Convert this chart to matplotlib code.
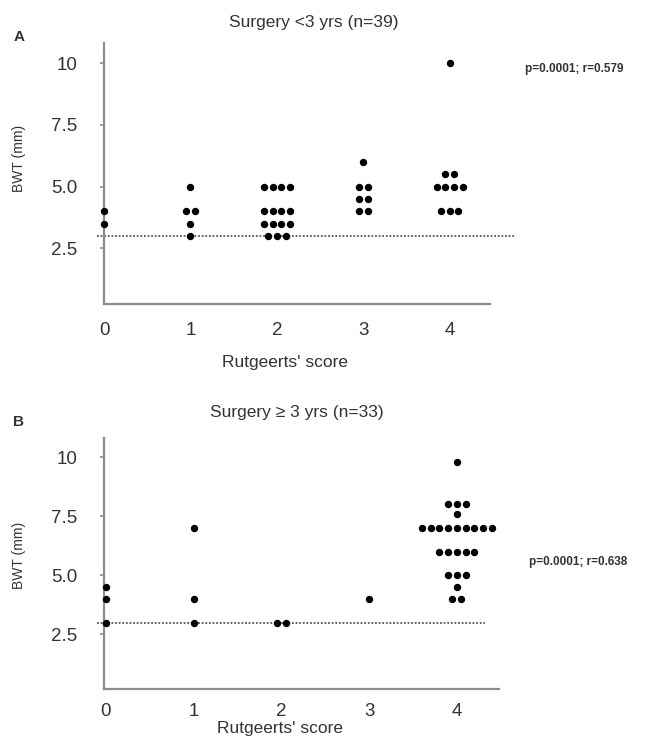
import matplotlib
matplotlib.use('Agg')
import matplotlib.pyplot as plt
from matplotlib.ticker import FixedLocator, FuncFormatter
import numpy as np

plt.rcParams['font.family'] = ['Liberation Sans', 'DejaVu Sans']

# BWT (mm) values per Rutgeerts' score (0..4)
scores = [0, 1, 2, 3, 4]
a_vals = [
    [4.0, 3.5],
    [5.0, 4.0, 4.0, 3.5, 3.0],
    [5.0, 5.0, 5.0, 5.0, 4.0, 4.0, 4.0, 4.0, 3.5, 3.5, 3.5, 3.5, 3.0, 3.0, 3.0],
    [6.0, 5.0, 5.0, 4.5, 4.5, 4.0, 4.0],
    [10.0, 5.5, 5.5, 5.0, 5.0, 5.0, 5.0, 4.0, 4.0, 4.0],
]
b_vals = [
    [4.5, 4.0, 3.0],
    [7.0, 4.0, 3.0],
    [3.0, 3.0],
    [4.0],
    [9.8, 8.0, 8.0, 8.0, 7.6, 7.0, 7.0, 7.0, 7.0, 7.0, 7.0, 7.0, 7.0, 7.0,
     6.0, 6.0, 6.0, 6.0, 6.0, 5.0, 5.0, 5.0, 4.5, 4.0, 4.0],
]
y_ticks = [2.5, 5.0, 7.5, 10.0]
cutoff = 3.0

titles = ['Surgery <3 yrs (n=39)', 'Surgery \u2265 3 yrs (n=33)']
stats = ['p=0.0001; r=0.579', 'p=0.0001; r=0.638']
letters = ['A', 'B']

TXT = '#333333'
AX = '#8c8c8c'
W, H = 657, 737


def swarm(score, vals, step=0.1):
    # spread equal values side by side around the score
    xs, ys = [], []
    for v in sorted(set(vals), reverse=True):
        n = vals.count(v)
        offs = (np.arange(n) - (n - 1) / 2) * step
        if score == 0:
            offs = offs * 0
        xs.extend(score + offs)
        ys.extend([v] * n)
    return xs, ys


def ylab(v, pos):
    return '%d' % v if v >= 10 else '%.1f' % v


fig = plt.figure(figsize=(W / 100, H / 100), dpi=100)

# pixel boxes: left, right, top, bottom of the axes
boxes = [(104, 489.5, 43.3, 304), (104, 499, 438.3, 689.3)]
xlims = [(0, 4.46), (-0.02, 4.48)]
ylims = [(0.25, 10.8), (0.18, 10.8)]
dash_x = [(-0.08, 4.76), (-0.1, 4.32)]
xpads = [13, 10]

for k, vals in enumerate([a_vals, b_vals]):
    x0, x1, y0, y1 = boxes[k]
    ax = fig.add_axes([x0 / W, 1 - y1 / H, (x1 - x0) / W, (y1 - y0) / H])
    for s, v in zip(scores, vals):
        xs, ys = swarm(s, v)
        ax.plot(xs, ys, 'o', color='black', ms=4.3, clip_on=False, zorder=3)
    ax.plot(dash_x[k], [cutoff, cutoff], color='#555555', lw=1.3,
            linestyle=(0, (1, 1)), clip_on=False, zorder=2)
    ax.set_xlim(*xlims[k])
    ax.set_ylim(*ylims[k])
    ax.set_xticks(scores)
    ax.yaxis.set_major_locator(FixedLocator(y_ticks))
    ax.yaxis.set_major_formatter(FuncFormatter(ylab))
    for sp in ['top', 'right']:
        ax.spines[sp].set_visible(False)
    for sp in ['left', 'bottom']:
        ax.spines[sp].set_color(AX)
        ax.spines[sp].set_linewidth(1.6)
    ax.tick_params(axis='y', length=3, width=1.2, color=AX, pad=16,
                   labelsize=13.5, labelcolor=TXT)
    ax.tick_params(axis='x', length=0, pad=xpads[k], labelsize=13.5,
                   labelcolor=TXT)

fig.text(314 / W, 1 - 22 / H, titles[0], ha='center', va='center',
         fontsize=12.5, color=TXT)
fig.text(297 / W, 1 - 412 / H, titles[1], ha='center', va='center',
         fontsize=12.5, color=TXT)
fig.text(285 / W, 1 - 363 / H, "Rutgeerts' score", ha='center',
         va='center', fontsize=12.5, color=TXT)
fig.text(280 / W, 1 - 728 / H, "Rutgeerts' score", ha='center',
         va='center', fontsize=12.5, color=TXT)
fig.text(19 / W, 1 - 158 / H, 'BWT (mm)', rotation=90, ha='center',
         va='center', fontsize=10, color=TXT)
fig.text(19 / W, 1 - 555 / H, 'BWT (mm)', rotation=90, ha='center',
         va='center', fontsize=10, color=TXT)
fig.text(19 / W, 1 - 37 / H, letters[0], ha='center', va='center',
         fontsize=11, fontweight='bold', color=TXT)
fig.text(19 / W, 1 - 422 / H, letters[1], ha='center', va='center',
         fontsize=11, fontweight='bold', color=TXT)
fig.text(525 / W, 1 - 69 / H, stats[0], ha='left', va='center',
         fontsize=8.5, fontweight='bold', color=TXT)
fig.text(529 / W, 1 - 562 / H, stats[1], ha='left', va='center',
         fontsize=8.5, fontweight='bold', color=TXT)

fig.savefig('out.png', dpi=100)
